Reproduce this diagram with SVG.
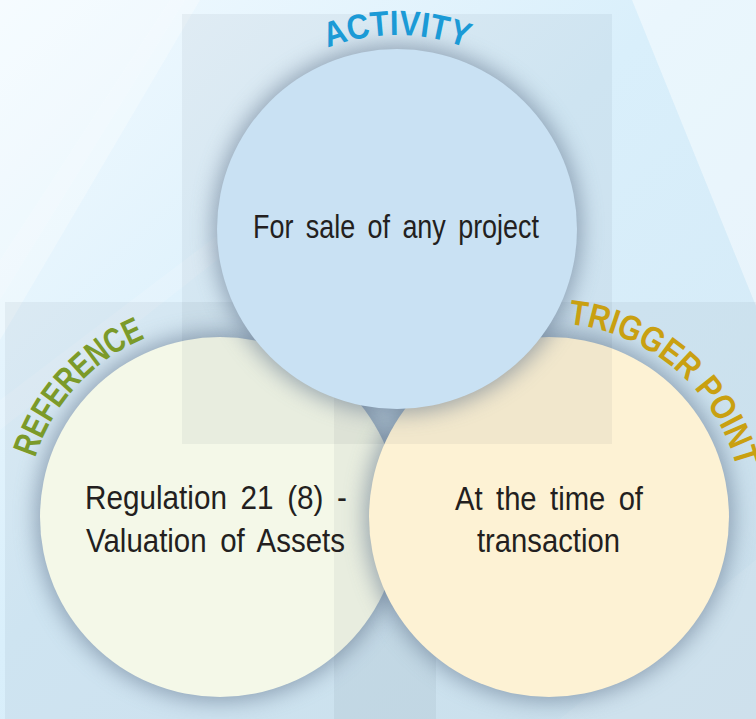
<svg xmlns="http://www.w3.org/2000/svg" width="756" height="719" viewBox="0 0 756 719">
  <defs>
    <linearGradient id="bg" x1="0" y1="0" x2="1" y2="1">
      <stop offset="0" stop-color="#f2faff"/>
      <stop offset="0.45" stop-color="#d9effb"/>
      <stop offset="1" stop-color="#d3e8f5"/>
    </linearGradient>
    <filter id="shadow" x="-30%" y="-30%" width="160%" height="160%">
      <feGaussianBlur stdDeviation="11"/>
    </filter>
    <path id="arcActivity" d="M214.7,162.65 A194,194 0 0 1 579.3,162.65"/>
    <path id="arcReference" d="M47.9,606.6 A194,194 0 0 1 294.2,337.8"/>
    <path id="arcTrigger" d="M453.5,348.1 A194,194 0 0 1 730.7,584.9"/>
    <style>
      .shadow { fill: #5e728a; opacity: 0.6; filter: url(#shadow); }
      .overlay { fill: #1c2d3c; opacity: 0.05; }
      .body { font-family: "Liberation Sans Narrow", "Liberation Sans", Arial, sans-serif; font-size: 33px; fill: #231f20; word-spacing: 6px; }
      .label { font-family: "Liberation Sans Narrow", "Liberation Sans", Arial, sans-serif; font-size: 35px; font-weight: bold; text-anchor: middle; }
    </style>
  </defs>

  <!-- background -->
  <rect x="0" y="0" width="756" height="719" fill="url(#bg)"/>
  <polygon points="0,0 200,0 0,340" fill="#ffffff" opacity="0.3"/>
  <polygon points="0,400 330,150 345,160 0,430" fill="#ffffff" opacity="0.14"/>
  <polygon points="0,260 170,0 185,0 0,300" fill="#ffffff" opacity="0.12"/>
  <polygon points="632,0 756,0 756,306" fill="#ffffff" opacity="0.45"/>
  <polygon points="560,719 756,560 756,719" fill="#ffffff" opacity="0.12"/>

  <rect class="overlay" x="5" y="302" width="431" height="417"/>

  <g id="node-reference">
    <circle class="shadow" cx="220" cy="517" r="184"/>
    <circle cx="220" cy="517" r="180" fill="#f4f8e8"/>
  </g>

  <rect class="overlay" x="334" y="302" width="422" height="417"/>

  <g id="node-trigger">
    <circle class="shadow" cx="549" cy="517" r="184"/>
    <circle cx="549" cy="517" r="180" fill="#fdf2d4"/>
  </g>

  <rect class="overlay" x="182" y="14" width="430" height="430"/>

  <g id="node-activity">
    <circle class="shadow" cx="397" cy="229" r="184"/>
    <circle cx="397" cy="229" r="180" fill="#c9e1f3"/>
  </g>

  <!-- texts -->
  <g id="text-activity">
    <text class="label" fill="#1b9ad6"><textPath href="#arcActivity" startOffset="50%" textLength="142" lengthAdjust="spacingAndGlyphs">ACTIVITY</textPath></text>
    <text class="body" x="253" y="238" textLength="286" lengthAdjust="spacingAndGlyphs">For sale of any project</text>
  </g>
  <g id="text-reference">
    <text class="label" fill="#7b9a29"><textPath href="#arcReference" startOffset="50%" textLength="168" lengthAdjust="spacingAndGlyphs">REFERENCE</textPath></text>
    <text class="body" x="85" y="509" textLength="262" lengthAdjust="spacingAndGlyphs">Regulation 21 (8) -</text>
    <text class="body" x="86" y="552" textLength="259" lengthAdjust="spacingAndGlyphs">Valuation of Assets</text>
  </g>
  <g id="text-trigger">
    <text class="label" fill="#c9a011"><textPath href="#arcTrigger" startOffset="50%" textLength="236" lengthAdjust="spacingAndGlyphs">TRIGGER POINT</textPath></text>
    <text class="body" x="455" y="510" textLength="188" lengthAdjust="spacingAndGlyphs">At the time of</text>
    <text class="body" x="477" y="552" textLength="143" lengthAdjust="spacingAndGlyphs">transaction</text>
  </g>

  <g id="connectors"></g>
</svg>
